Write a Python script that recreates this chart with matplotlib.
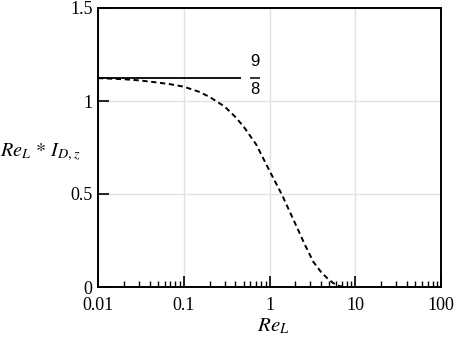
import matplotlib
matplotlib.use("Agg")
import matplotlib.pyplot as plt
from matplotlib.ticker import LogLocator, NullFormatter

plt.rcParams['mathtext.fontset'] = 'stix'
plt.rcParams['lines.scale_dashes'] = False

# Data
re_l = [0.01, 0.02, 0.03, 0.05, 0.07, 0.1, 0.15, 0.2, 0.3, 0.4, 0.5, 0.7, 1.0, 1.4,
        2.0, 2.6, 3.25, 4.0, 4.7, 5.5, 6.2, 7.0, 8.0]
re_i = [1.123, 1.117, 1.111, 1.099, 1.090, 1.077, 1.050, 1.022, 0.970, 0.914, 0.862,
        0.766, 0.625, 0.495, 0.340, 0.225, 0.135, 0.080, 0.048, 0.022, 0.008, 0.002, 0.0]
asym_x = [0.01, 0.46]
asym_value = 9 / 8
xticks = [0.01, 0.1, 1, 10, 100]
xticklabels = ["0.01", "0.1", "1", "10", "100"]
yticks = [0, 0.5, 1, 1.5]
yticklabels = ["0", "0.5", "1", "1.5"]

fig = plt.figure(figsize=(4.55, 3.37), dpi=100)
ax = fig.add_axes([98/455, 1-287/337, (441-98)/455, (287-8)/337])

ax.set_xscale('log')
ax.set_xlim(0.01, 100)
ax.set_ylim(0, 1.5)

ax.grid(True, which='major', color='#e2e2e2', lw=1.0)
ax.set_axisbelow(True)

ax.plot(asym_x, [asym_value]*len(asym_x), color='black', lw=1.3, solid_capstyle='butt')
ax.plot(re_l, re_i, color='black', lw=1.4, linestyle=(0, (3.8, 2.6)))

# fraction 9/8 label
fx = 10 ** (-2 + 157/86)
ax.text(fx, 1.215, "9", ha='center', va='center', fontsize=12, family='Liberation Sans')
ax.text(fx, 1.062, "8", ha='center', va='center', fontsize=12, family='Liberation Sans')
ax.plot([10 ** (-2 + 152/86), 10 ** (-2 + 162/86)], [asym_value]*2, color='black', lw=1.1,
        solid_capstyle='butt')

ax.set_xticks(xticks)
ax.set_xticklabels(xticklabels)
ax.xaxis.set_minor_locator(LogLocator(base=10, subs=range(2, 10)))
ax.xaxis.set_minor_formatter(NullFormatter())
ax.set_yticks(yticks)
ax.set_yticklabels(yticklabels)

for lab in ax.get_xticklabels() + ax.get_yticklabels():
    lab.set_family('Liberation Serif')
    lab.set_fontsize(13)

ax.tick_params(axis='both', which='major', direction='in', length=8, width=1.2, pad=4,
               colors='black')
ax.tick_params(axis='x', which='major', pad=7)
ax.tick_params(axis='x', which='minor', direction='in', length=4.5, width=1.0)
ax.tick_params(axis='y', which='minor', left=False)

for s in ax.spines.values():
    s.set_linewidth(1.4)
    s.set_color('black')

fig.text(273/455, 1-326/337, r"$Re_L$", ha='center', va='center', fontsize=15)
fig.text(81/455, 1-152/337, r"$Re_L\,*\,I_{D,z}$", ha='right', va='center', fontsize=14.5)

fig.savefig("out.png", dpi=100)
